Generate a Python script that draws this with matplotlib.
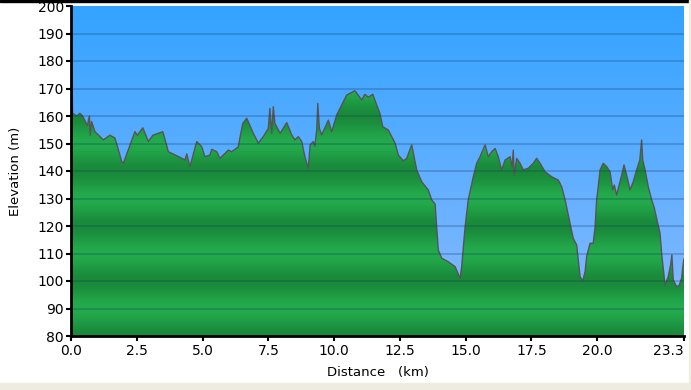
import numpy as np
import matplotlib.pyplot as plt
from matplotlib.patches import Polygon, Rectangle

# ---- Elevation profile ----
dist_km = [
    0.00, 0.03, 0.06, 0.22, 0.34, 0.44, 0.62, 0.70, 0.73, 0.78, 0.91, 1.23,
    1.48, 1.67, 1.93, 1.99, 2.43, 2.52, 2.73, 2.94, 3.11, 3.49, 3.70, 4.14,
    4.33, 4.40, 4.52, 4.78, 4.97, 5.09, 5.28, 5.35, 5.54, 5.66, 5.79, 5.98,
    6.11, 6.36, 6.42, 6.53, 6.68, 6.93, 7.12, 7.31, 7.50, 7.56, 7.63, 7.69,
    7.75, 7.95, 8.20, 8.39, 8.51, 8.64, 8.77, 8.89, 9.02, 9.09, 9.21, 9.27,
    9.34, 9.38, 9.44, 9.53, 9.78, 9.91, 10.10, 10.48, 10.79, 11.05, 11.17,
    11.30, 11.47, 11.62, 11.74, 11.85, 12.06, 12.32, 12.44, 12.63, 12.76,
    12.95, 13.14, 13.33, 13.58, 13.71, 13.84, 13.96, 14.09, 14.34, 14.60,
    14.79, 14.85, 14.98, 15.10, 15.29, 15.42, 15.55, 15.74, 15.86, 15.99,
    16.12, 16.24, 16.37, 16.50, 16.69, 16.77, 16.81, 16.85, 16.94, 17.07,
    17.19, 17.38, 17.57, 17.70, 17.83, 18.02, 18.27, 18.52, 18.65, 18.78,
    18.97, 19.09, 19.22, 19.35, 19.45, 19.54, 19.60, 19.73, 19.85, 19.92,
    19.98, 20.04, 20.11, 20.23, 20.36, 20.49, 20.59, 20.65, 20.74, 20.93,
    21.02, 21.12, 21.25, 21.37, 21.50, 21.62, 21.69, 21.73, 21.82, 21.94,
    22.07, 22.16, 22.39, 22.45, 22.58, 22.70, 22.79, 22.84, 22.89, 23.02,
    23.12, 23.21, 23.27, 23.30,
]
elev_m = [
    165.0, 183.0, 161.0, 160.0, 161.0, 160.0, 156.5, 160.0, 153.0, 158.0, 154.3, 151.3,
    153.0, 152.0, 143.4, 142.8, 154.3, 153.0, 155.7, 150.7, 153.0, 154.3, 147.0, 145.0,
    144.0, 146.2, 141.6, 150.7, 148.8, 145.2, 145.8, 147.9, 147.0, 144.6, 145.8, 147.6,
    147.0, 148.8, 152.0, 157.3, 159.2, 153.7, 150.1, 152.5, 155.5, 162.8, 153.7, 163.4,
    157.3, 153.7, 157.6, 153.1, 151.3, 152.5, 150.7, 145.2, 141.0, 149.5, 150.7, 149.0,
    154.9, 164.6, 155.5, 153.1, 158.5, 154.3, 160.4, 167.6, 169.2, 165.8, 167.9,
    166.8, 167.9, 164.0, 161.0, 156.1, 154.9, 150.1, 145.8, 143.7, 144.6,
    149.5, 140.4, 136.1, 133.1, 129.5, 128.0, 111.3, 108.3, 107.0, 105.2,
    101.0, 105.2, 119.7, 129.5, 137.9, 142.8, 145.2, 149.5, 145.2, 147.0,
    148.2, 145.2, 140.4, 144.0, 145.2, 141.6, 147.6, 138.5, 144.6, 142.8,
    140.4, 141.0, 142.8, 144.6, 142.8, 139.7, 137.9, 136.7, 134.3, 129.5,
    121.0, 115.5, 113.1, 101.6, 100.1, 103.4, 108.9, 113.7, 113.7, 119.7,
    129.5, 134.3, 140.4, 142.8, 141.6, 139.7, 133.1, 134.9, 131.3, 138.5,
    142.2, 138.5, 133.1, 136.1, 140.4, 144.0, 151.3, 144.0, 140.4, 134.3,
    129.5, 127.0, 117.3, 110.0, 98.5, 101.6, 105.8, 109.5, 100.4, 97.9,
    98.5, 101.0, 106.4, 108.0,
]

x_ticks = [0.0, 2.5, 5.0, 7.5, 10.0, 12.5, 15.0, 17.5, 20.0, 23.3]
x_labels = ["0.0", "2.5", "5.0", "7.5", "10.0", "12.5", "15.0", "17.5", "20.0", "23.3"]
y_ticks = list(range(80, 201, 10))

x_max, y_min, y_max = 23.3, 80, 200

fig = plt.figure(figsize=(6.91, 3.90), dpi=100)
fig.patch.set_facecolor("white")

# frame decorations of the original widget
fig.add_artist(Rectangle((0, 1 - 2 / 390), 1, 2 / 390, transform=fig.transFigure,
                         color="black", zorder=0))
fig.add_artist(Rectangle((0, 0), 1, 7 / 390, transform=fig.transFigure,
                         color="#eeece0", zorder=0))
fig.add_artist(Rectangle((1 - 2 / 691, 0), 2 / 691, 1, transform=fig.transFigure,
                         color="#efeee3", zorder=0))

ax = fig.add_axes([71 / 691, 54 / 390, 613 / 691, 330 / 390])
ax.set_xlim(0, x_max)
ax.set_ylim(y_min, y_max)

# ---- sky gradient ----
t = np.linspace(0, 1, 256)[:, None]
top = np.array([0.20, 0.64, 1.00])
bot = np.array([0.55, 0.73, 1.00])
sky = (top * (1 - t) + bot * t).reshape(256, 1, 3)
ax.imshow(sky, extent=[0, x_max, y_min, y_max], aspect="auto", origin="upper", zorder=0)

# ---- banded green fill ----
v = np.linspace(y_min, y_max, 600)
band = 0.5 * (1 + np.cos(2 * np.pi * (v - 100) / 20))
light = np.array([0.14, 0.67, 0.30])
dark = np.array([0.10, 0.54, 0.23])
green = (light[None, :] * (1 - band[:, None]) + dark[None, :] * band[:, None])
green = green[:, None, :]
im = ax.imshow(green, extent=[0, x_max, y_min, y_max], aspect="auto",
               origin="lower", zorder=1)
verts = [(dist_km[0], y_min)] + list(zip(dist_km, elev_m)) + [(dist_km[-1], y_min)]
poly = Polygon(verts, closed=True, facecolor="none", edgecolor="none",
               transform=ax.transData)
ax.add_patch(poly)
im.set_clip_path(poly)

ax.plot(dist_km, elev_m, color="#555555", lw=1.0, zorder=2)

# horizontal grid
for yv in y_ticks[1:-1]:
    ax.axhline(yv, color=(0.05, 0.2, 0.35), alpha=0.28, lw=1.2, zorder=3)

# ---- axes styling ----
for s in ["top", "right"]:
    ax.spines[s].set_visible(False)
for s in ["left", "bottom"]:
    ax.spines[s].set_linewidth(2)
    ax.spines[s].set_color("black")
    ax.spines[s].set_zorder(5)

ax.set_xticks(x_ticks)
ax.set_xticklabels(x_labels)
ax.get_xticklabels()[-1].set_horizontalalignment("right")
ax.set_yticks(y_ticks)
ax.tick_params(direction="out", length=3.5, width=1.5, labelsize=10, pad=2,
               colors="black")
ax.tick_params(axis="y", pad=1.5)

ax.set_xlabel("Distance   (km)", fontsize=9.5, labelpad=6)
ax.set_ylabel("Elevation (m)", fontsize=9.5, labelpad=11)

fig.savefig("out.png", dpi=100)
